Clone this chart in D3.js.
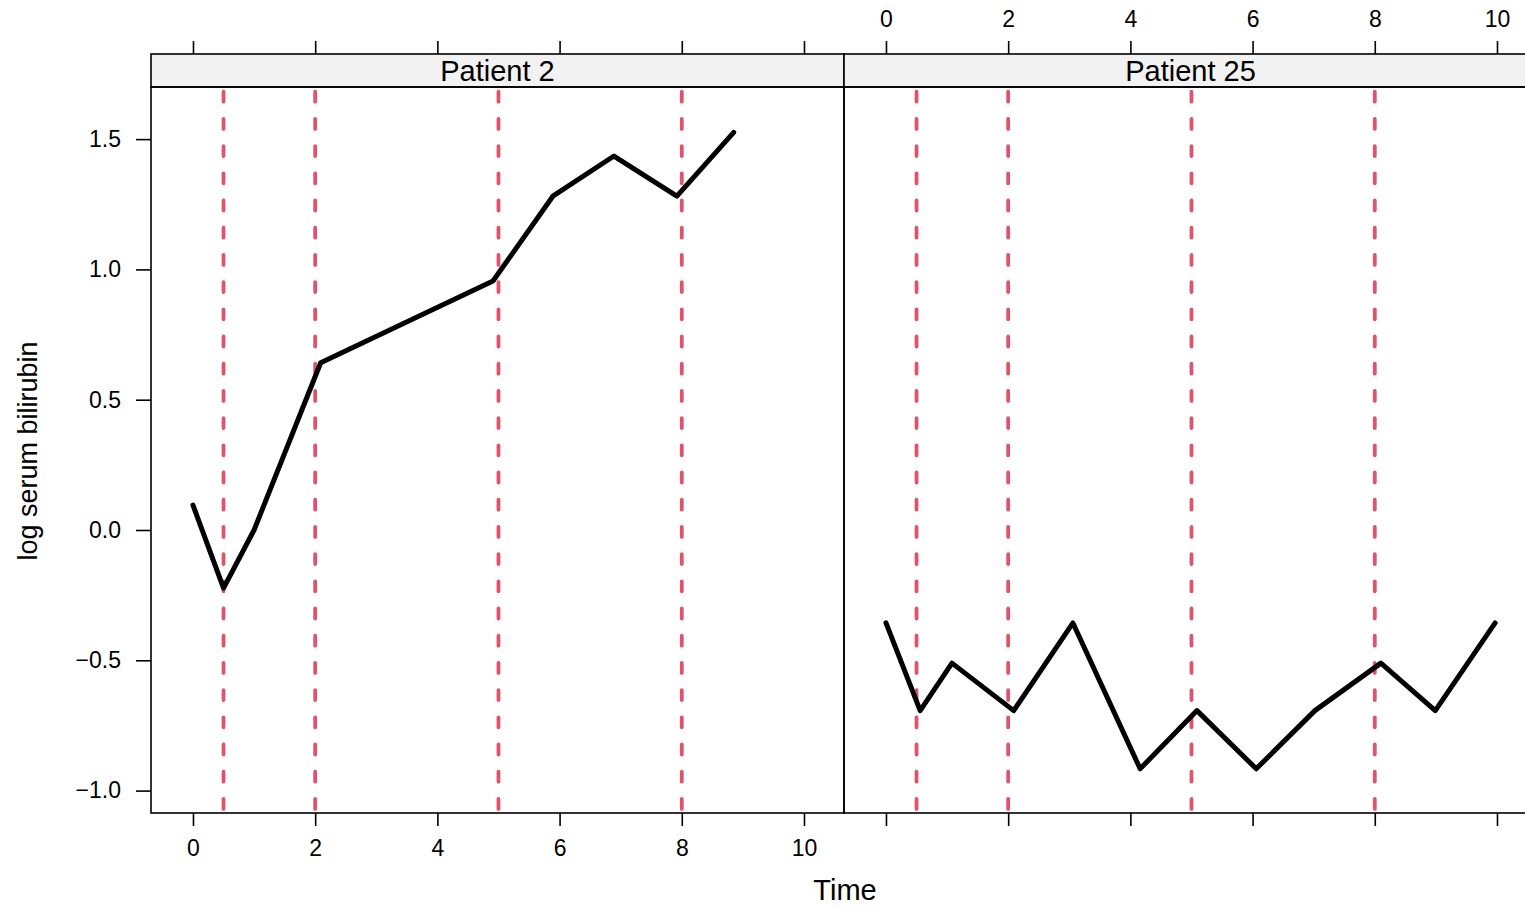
<!DOCTYPE html>
<html>
<head>
<meta charset="utf-8">
<script src="https://cdn.jsdelivr.net/npm/d3@7"></script>
<style>
  html, body { margin: 0; padding: 0; background: #fff; }
  svg { display: block; }
  text { font-family: "Liberation Sans", Arial, Helvetica, sans-serif; fill: #000; }
</style>
</head>
<body>
<svg id="chart" width="1525" height="908"></svg>
<script>
// ---- data ----
const panelNames = ["Patient 2", "Patient 25"];
const p2Time = [0, 0.5, 1.0, 2.09, 4.91, 5.89, 6.89, 7.92, 8.85];
const p2Value = [0.0953, -0.2231, 0.0, 0.6419, 0.9555, 1.2809, 1.4351, 1.2809, 1.5261];
const p25Time = [0, 0.56, 1.08, 2.09, 3.06, 4.16, 5.09, 6.06, 7.02, 8.10, 8.99, 9.97];
const p25Value = [-0.3567, -0.6931, -0.5108, -0.6931, -0.3567, -0.9163, -0.6931, -0.9163, -0.6931, -0.5108, -0.6931, -0.3567];
const refTimes = [0.5, 2, 5, 8];
const xTicks = [0, 2, 4, 6, 8, 10];
const yTicks = [-1.0, -0.5, 0.0, 0.5, 1.0, 1.5];

(function () {
const panels = [
  { name: panelNames[0], time: p2Time, value: p2Value },
  { name: panelNames[1], time: p25Time, value: p25Value }
];

const svg = d3.select("#chart");
const panelW = 693, pTop = 87, pBottom = 813, stripTop = 54;
const panelLeft = [151, 844];
const tickFont = 23;

const y = d3.scaleLinear().domain([-1.086, 1.70]).range([pBottom, pTop]);
const fmtY = v => (v < 0 ? "\u2212" : "") + Math.abs(v).toFixed(1);

const defs = svg.append("defs");

panels.forEach((p, i) => {
  const x0 = panelLeft[i];
  const x = d3.scaleLinear().domain([-0.687, 10.655]).range([x0, x0 + panelW]);
  const g = svg.append("g");

  defs.append("clipPath").attr("id", "clip" + i)
    .append("rect").attr("x", x0).attr("y", pTop).attr("width", panelW).attr("height", pBottom - pTop);

  // strip
  g.append("rect").attr("x", x0).attr("y", stripTop).attr("width", panelW).attr("height", pTop - stripTop)
    .attr("fill", "#f2f2f2").attr("stroke", "#000").attr("stroke-width", 1.6);
  g.append("text").attr("x", x0 + panelW / 2).attr("y", 81).attr("text-anchor", "middle")
    .attr("font-size", 29).text(p.name);

  const inner = g.append("g").attr("clip-path", "url(#clip" + i + ")");

  // reference lines
  inner.selectAll("line.ref").data(refTimes).enter().append("line")
    .attr("x1", d => x(d)).attr("x2", d => x(d))
    .attr("y1", pTop).attr("y2", pBottom)
    .attr("stroke", "#DF536B").attr("stroke-width", 3.8)
    .attr("stroke-linecap", "round")
    .attr("stroke-dasharray", "10,17.2")
    .attr("stroke-dashoffset", 22.5);

  // data line
  const line = d3.line().x(d => x(d[0])).y(d => y(d[1]));
  inner.append("path").datum(d3.zip(p.time, p.value))
    .attr("d", line).attr("fill", "none").attr("stroke", "#000")
    .attr("stroke-width", 5).attr("stroke-linejoin", "round").attr("stroke-linecap", "round");

  // panel border
  g.append("rect").attr("x", x0).attr("y", pTop).attr("width", panelW).attr("height", pBottom - pTop)
    .attr("fill", "none").attr("stroke", "#000").attr("stroke-width", 1.6);

  // x axes: bottom labelled on left panel, top labelled on right panel
  const axBottom = d3.axisBottom(x).tickValues(xTicks).tickSize(13).tickPadding(14)
    .tickFormat(i === 0 ? d3.format("d") : () => "");
  const gb = svg.append("g").attr("transform", `translate(0,${pBottom})`).call(axBottom);
  const axTop = d3.axisTop(x).tickValues(xTicks).tickSize(13).tickPadding(14)
    .tickFormat(i === 1 ? d3.format("d") : () => "");
  const gt = svg.append("g").attr("transform", `translate(0,${stripTop})`).call(axTop);
  [gb, gt].forEach(ax => {
    ax.select(".domain").remove();
    ax.selectAll(".tick line").attr("stroke", "#000").attr("stroke-width", 1.6);
    ax.selectAll(".tick text").attr("font-size", tickFont).attr("font-family", "Liberation Sans, Arial, sans-serif").attr("fill", "#000");
  });
});

// y axis (left)
const ay = d3.axisLeft(y).tickValues(yTicks).tickSize(15).tickPadding(15).tickFormat(fmtY);
const gy = svg.append("g").attr("transform", `translate(${panelLeft[0]},0)`).call(ay);
gy.select(".domain").remove();
gy.selectAll(".tick line").attr("stroke", "#000").attr("stroke-width", 1.6);
gy.selectAll(".tick text").attr("font-size", tickFont).attr("font-family", "Liberation Sans, Arial, sans-serif").attr("fill", "#000");

// axis titles
svg.append("text").attr("x", 845).attr("y", 900).attr("text-anchor", "middle")
  .attr("font-size", 29).text("Time");
svg.append("text").attr("transform", "translate(37,451) rotate(-90)").attr("text-anchor", "middle")
  .attr("font-size", 27).text("log serum bilirubin");
})();
</script>
</body>
</html>
